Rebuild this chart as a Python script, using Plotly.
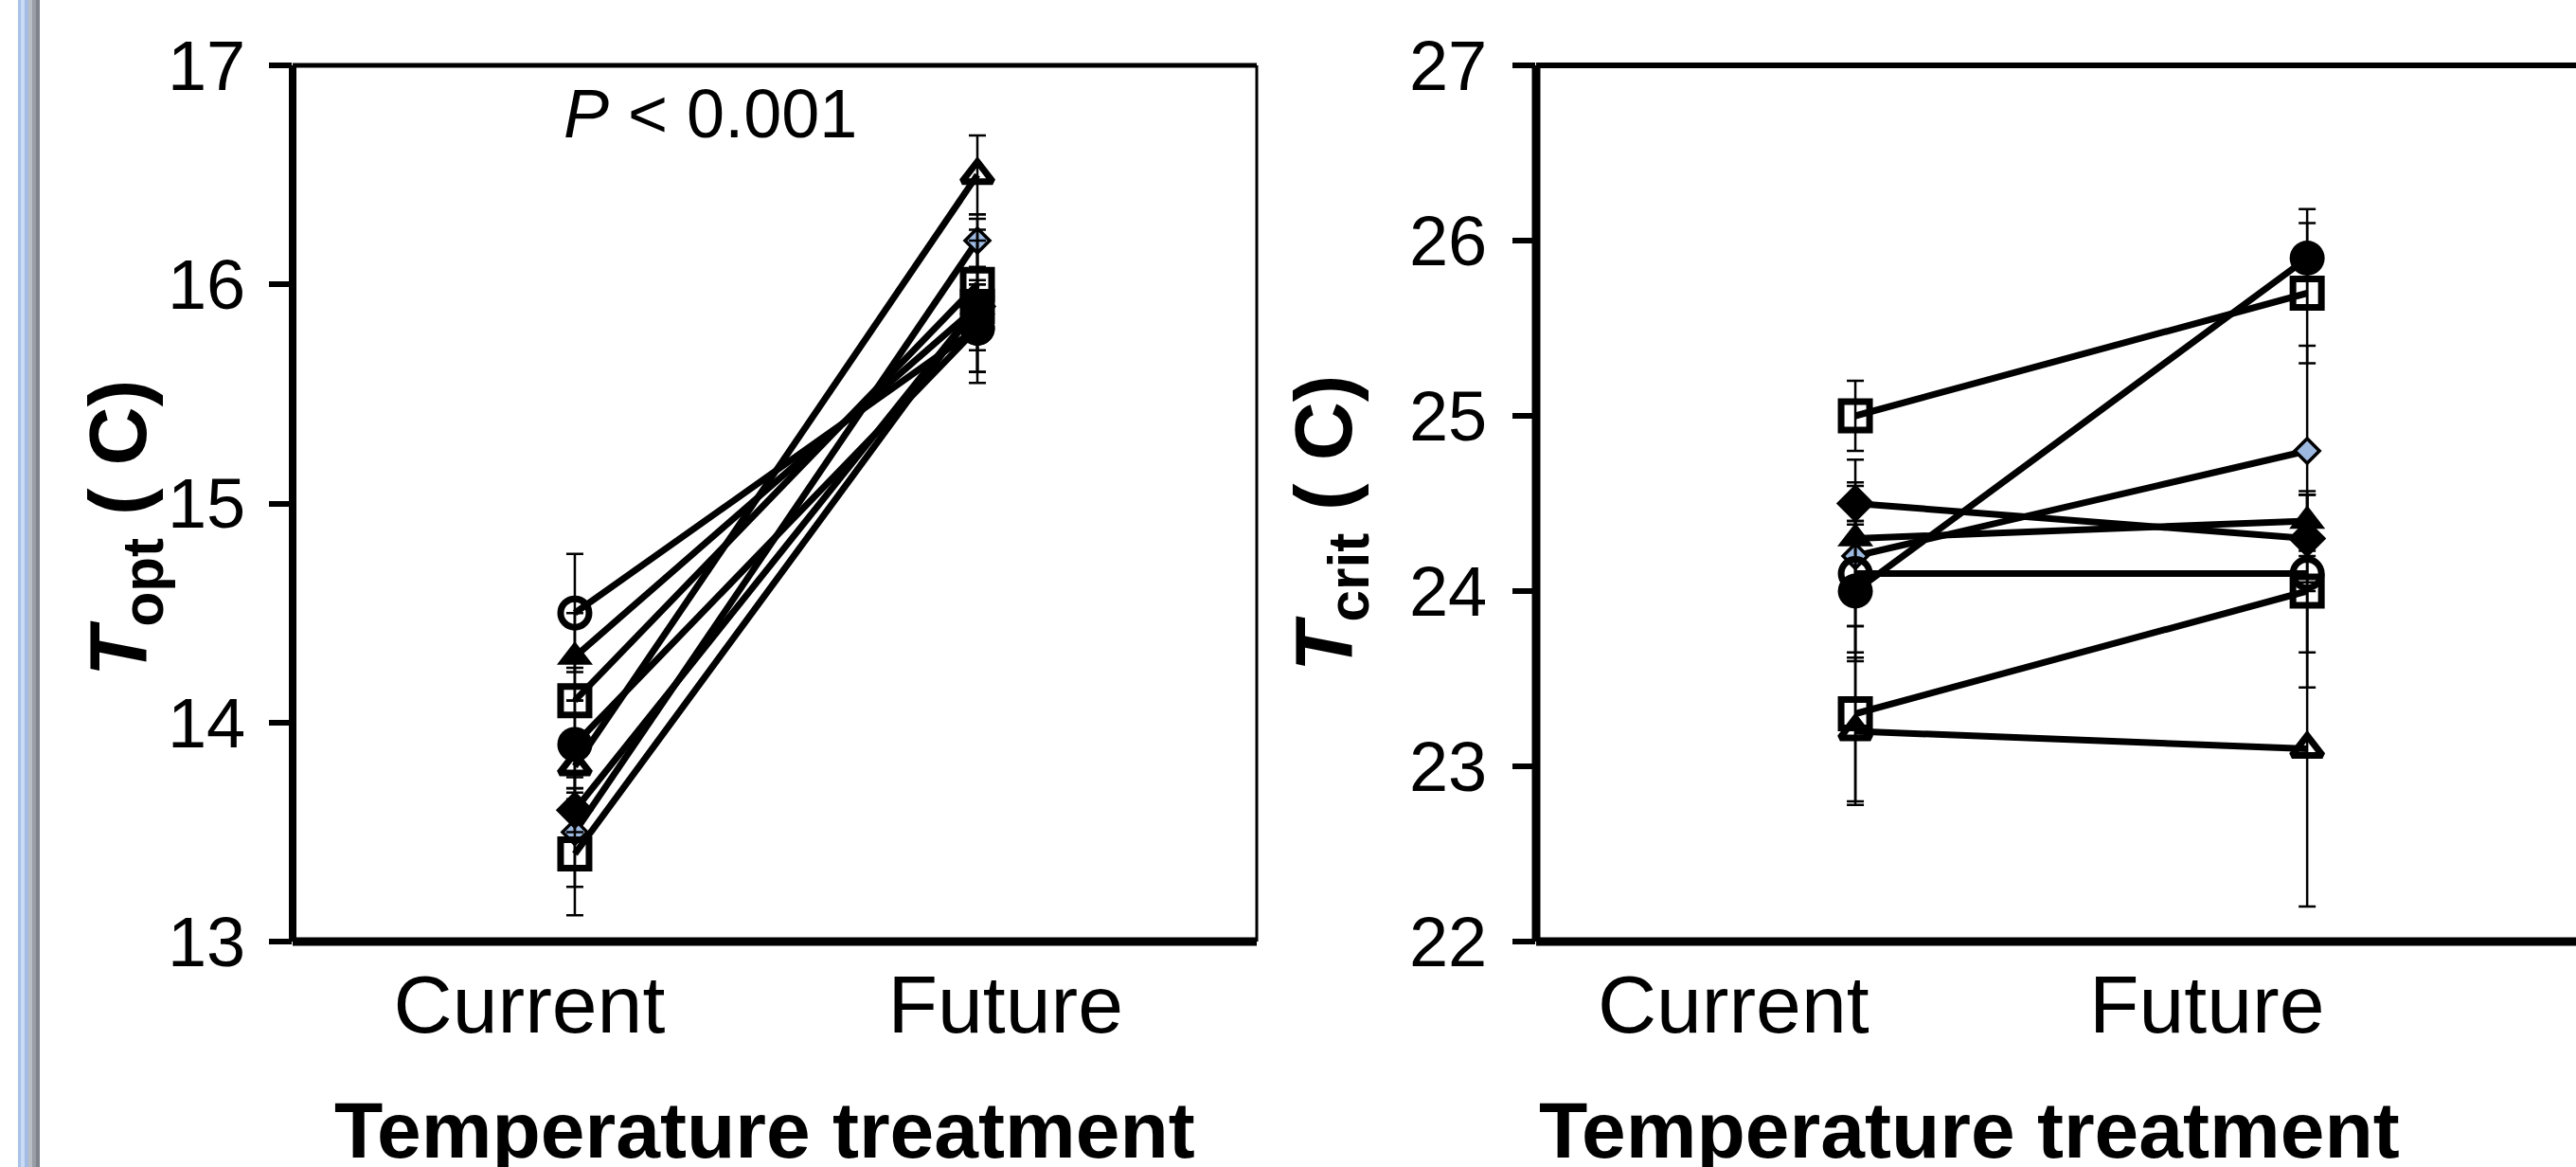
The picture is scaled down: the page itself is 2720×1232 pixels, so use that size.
import plotly.graph_objects as go

W, H = 2720, 1232

categories = ["Current", "Future"]

# ---- T_opt panel (left) ----
topt_current = [13.5, 14.5, 14.3, 14.1, 13.9, 13.8, 13.6, 13.4]
topt_future = [16.2, 15.8, 15.9, 16.0, 15.8, 16.5, 15.9, 15.9]
topt_err_current = [0.25, 0.27, 0.2, 0.15, 0.2, 0.15, 0.1, 0.28]
topt_err_future = [0.12, 0.2, 0.3, 0.3, 0.2, 0.18, 0.12, 0.35]
topt_ticks = [13, 14, 15, 16, 17]

# ---- T_crit panel (right) ----
tcrit_current = [24.2, 24.1, 24.3, 25.0, 24.0, 23.2, 24.5, 23.3]
tcrit_future = [24.8, 24.1, 24.4, 25.7, 25.9, 23.1, 24.3, 24.0]
tcrit_err_current = [0.55, 0.3, 0.3, 0.2, 0.4, 0.42, 0.12, 0.5]
tcrit_err_future = [0.6, 0.45, 0.17, 0.4, 0.28, 0.9, 0.25, 0.55]
tcrit_ticks = [22, 23, 24, 25, 26, 27]

# marker style per series (same for both panels)
styles = [
    dict(symbol="diamond", size=20, color="#9DB9E0", line=dict(width=3.5, color="black")),
    dict(symbol="circle-open", size=30, color="black", line=dict(width=7, color="black")),
    dict(symbol="triangle-up", size=33, color="black", line=dict(width=0)),
    dict(symbol="square-open", size=30, color="black", line=dict(width=7, color="black")),
    dict(symbol="circle", size=37, color="black", line=dict(width=0)),
    dict(symbol="triangle-up-open", size=28, color="black", line=dict(width=7, color="black")),
    dict(symbol="diamond", size=31, color="black", line=dict(width=0)),
    dict(symbol="square-open", size=30, color="black", line=dict(width=7, color="black")),
]

xnum = [0, 1]

fig = go.Figure()


def add_panel(cur, fut, ecur, efut, xa, ya):
    for i in range(len(cur)):
        fig.add_trace(go.Scatter(
            x=xnum, y=[cur[i], fut[i]],
            mode="lines+markers",
            line=dict(color="black", width=7),
            marker=styles[i],
            error_y=dict(type="data", array=[ecur[i], efut[i]], visible=True,
                         color="black", thickness=2.5, width=9),
            xaxis=xa, yaxis=ya, showlegend=False, hoverinfo="skip",
        ))


add_panel(topt_current, topt_future, topt_err_current, topt_err_future, "x", "y")
add_panel(tcrit_current, tcrit_future, tcrit_err_current, tcrit_err_future, "x2", "y2")

# geometry (pixels)
L1, R1 = 309, 1327
L2, R2 = 1622, 2720
TOP, BOT = 69, 994

fx = lambda px: px / W
fy = lambda py: 1 - py / H

tickfont = dict(family="Liberation Sans, Arial", size=74, color="black")
catfont = dict(family="Liberation Sans, Arial", size=86, color="black")

fig.update_layout(
    width=W, height=H,
    margin=dict(l=0, r=0, t=0, b=0),
    paper_bgcolor="white", plot_bgcolor="white",
    xaxis=dict(domain=[fx(L1), fx(R1)], range=[-0.701, 1.694],
               tickvals=[-0.113, 1.07], ticktext=categories,
               showgrid=False, zeroline=False, showline=False, ticks="",
               tickfont=catfont, ticklabelstandoff=9, anchor="y", automargin=False),
    yaxis=dict(domain=[fy(BOT), fy(TOP)], range=[13, 17], tickvals=topt_ticks,
               showgrid=False, zeroline=False, showline=False,
               ticks="outside", ticklen=24, tickwidth=6, tickcolor="black",
               tickfont=tickfont, ticklabelstandoff=10, anchor="x", automargin=False),
    xaxis2=dict(domain=[fx(L2), fx(R2)], range=[-0.7065, 1.595],
                tickvals=[-0.27, 0.778], ticktext=categories,
                showgrid=False, zeroline=False, showline=False, ticks="",
                tickfont=catfont, ticklabelstandoff=9, anchor="y2", automargin=False),
    yaxis2=dict(domain=[fy(BOT), fy(TOP)], range=[22, 27], tickvals=tcrit_ticks,
                showgrid=False, zeroline=False, showline=False,
                ticks="outside", ticklen=24, tickwidth=6, tickcolor="black",
                tickfont=tickfont, ticklabelstandoff=12, anchor="x2", automargin=False),
)

shapes = []


def frame(xd, yd, widths, right=True):
    # left, bottom, top, right
    shapes.append(dict(type="line", xref=xd, yref=yd, x0=0, x1=0, y0=0, y1=1,
                       line=dict(color="black", width=widths[0])))
    shapes.append(dict(type="line", xref=xd, yref=yd, x0=0, x1=1, y0=0, y1=0,
                       line=dict(color="black", width=widths[1])))
    shapes.append(dict(type="line", xref=xd, yref=yd, x0=0, x1=1, y0=1, y1=1,
                       line=dict(color="black", width=widths[2])))
    if right:
        shapes.append(dict(type="line", xref=xd, yref=yd, x0=1, x1=1, y0=0, y1=1,
                           line=dict(color="black", width=widths[3])))


frame("x domain", "y domain", [8, 9, 5, 3])
frame("x2 domain", "y2 domain", [9, 9, 6, 3], right=False)

# decorative left border bars
strips = [(19, 22, "#A9C2EA"), (22, 26, "#C9DAF4"), (26, 30, "#A4BCE3"),
          (30, 34, "#B9BDC4"), (34, 38, "#999EA6"), (38, 42, "#7E838C")]
for a, b, c in strips:
    shapes.append(dict(type="rect", xref="paper", yref="paper",
                       x0=fx(a), x1=fx(b), y0=0, y1=1,
                       line=dict(width=0), fillcolor=c, layer="below"))
fig.update_layout(shapes=shapes)

ann = []
ann.append(dict(text="<b><i>T</i><sub>opt</sub> ( C)</b>", textangle=-90,
                xref="paper", yref="paper", x=fx(130), y=fy(558),
                showarrow=False, xanchor="center", yanchor="middle",
                font=dict(family="Liberation Sans, Arial", size=86, color="black")))
ann.append(dict(text="<b><i>T</i><sub>crit</sub> ( C)</b>", textangle=-90,
                xref="paper", yref="paper", x=fx(1403), y=fy(553),
                showarrow=False, xanchor="center", yanchor="middle",
                font=dict(family="Liberation Sans, Arial", size=86, color="black")))
ann.append(dict(text="<b>Temperature treatment</b>", xref="paper", yref="paper",
                x=fx(807), y=fy(1193), showarrow=False, xanchor="center", yanchor="middle",
                font=dict(family="Liberation Sans, Arial", size=84, color="black")))
ann.append(dict(text="<b>Temperature treatment</b>", xref="paper", yref="paper",
                x=fx(2079), y=fy(1193), showarrow=False, xanchor="center", yanchor="middle",
                font=dict(family="Liberation Sans, Arial", size=84, color="black")))
ann.append(dict(text="<i>P</i> &lt; 0.001", xref="paper", yref="paper",
                x=fx(750), y=fy(120), showarrow=False, xanchor="center", yanchor="middle",
                font=dict(family="Liberation Sans, Arial", size=72, color="black")))
fig.update_layout(annotations=ann)

fig.write_html("out.html", config={"displayModeBar": False},
               post_script="document.body.style.margin='0';document.body.style.padding='0';document.body.style.overflow='hidden';")
